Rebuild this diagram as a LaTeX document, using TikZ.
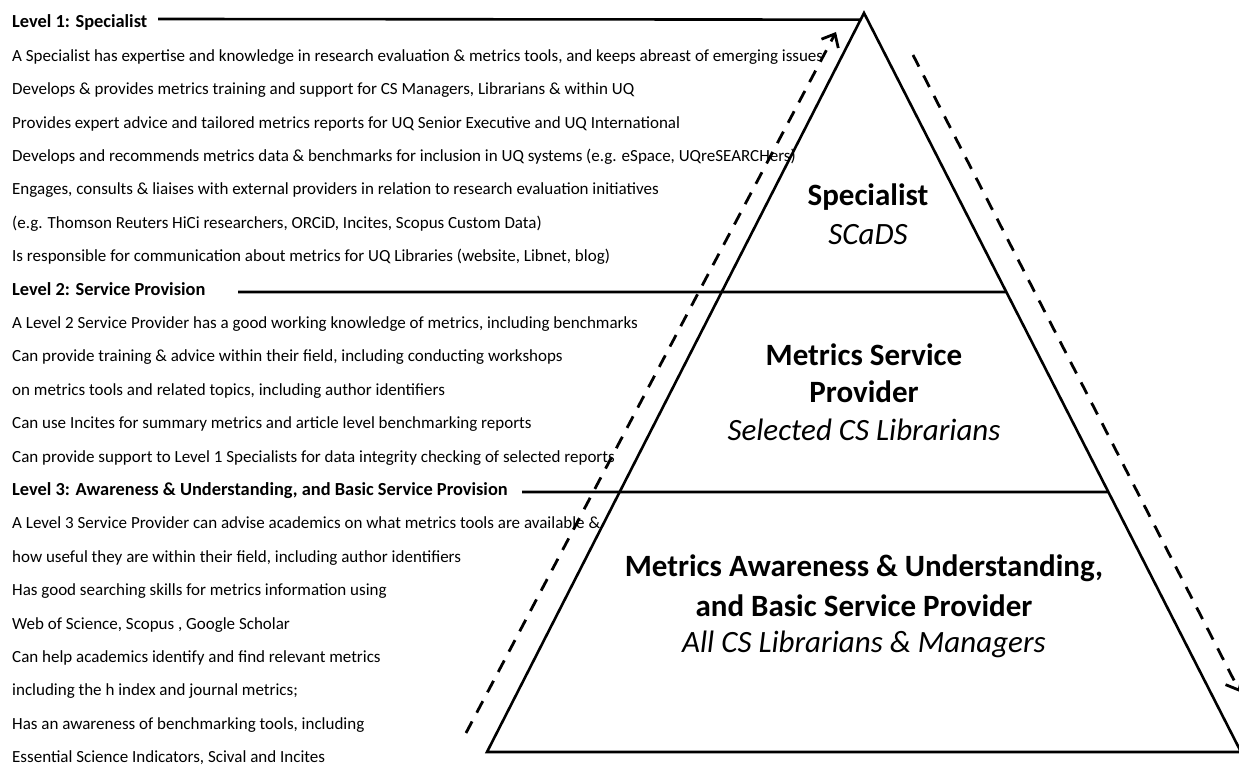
\documentclass[tikz,border=0pt]{standalone}
\usepackage{fontspec}
\setmainfont{Carlito}
\usetikzlibrary{calc,arrows.meta}
\tikzset{
  item/.style={anchor=base west,inner sep=0pt,font=\fontsize{17}{20}\selectfont},
  head/.style={item,font=\fontsize{18.4}{20}\selectfont\bfseries},
  pbold/.style={inner sep=0pt,font=\fontsize{31}{34}\selectfont\bfseries},
  pital/.style={inner sep=0pt,font=\fontsize{31}{34}\selectfont\itshape},
  edge/.style={line width=2.6pt,line join=miter},
  flow/.style={line width=2.8pt,dash pattern=on 13pt off 10pt,-{Straight Barb[length=11pt,width=19pt,line width=2.8pt]}}
}
\begin{document}
\begin{tikzpicture}[x=1pt,y=1pt]
\useasboundingbox (0,0) rectangle (1239,765);
% left text
\foreach \i/\s/\t in {
 1/head/{Level 1: Specialist},
 2/item/{A Specialist has expertise and knowledge in research evaluation \& metrics tools, and keeps abreast of emerging issues},
 3/item/{Develops \& provides metrics training and support for CS Managers, Librarians \& within UQ},
 4/item/{Provides expert advice and tailored metrics reports for UQ Senior Executive and UQ International},
 5/item/{Develops and recommends metrics data \& benchmarks for inclusion in UQ systems (e.g. eSpace, UQreSEARCHers)},
 6/item/{Engages, consults \& liaises with external providers in relation to research evaluation initiatives},
 7/item/{(e.g. Thomson Reuters HiCi researchers, ORCiD, Incites, Scopus Custom Data)},
 8/item/{Is responsible for communication about metrics for UQ Libraries (website, Libnet, blog)},
 9/head/{Level 2: Service Provision},
 10/item/{A Level 2 Service Provider has a good working knowledge of metrics, including benchmarks},
 11/item/{Can provide training \& advice within their field, including conducting workshops},
 12/item/{on metrics tools and related topics, including author identifiers},
 13/item/{Can use Incites for summary metrics and article level benchmarking reports},
 14/item/{Can provide support to Level 1 Specialists for data integrity checking of selected reports},
 15/head/{Level 3: Awareness \& Understanding, and Basic Service Provision},
 16/item/{A Level 3 Service Provider can advise academics on what metrics tools are available \&},
 17/item/{how useful they are within their field, including author identifiers},
 18/item/{Has good searching skills for metrics information using},
 19/item/{Web of Science, Scopus , Google Scholar},
 20/item/{Can help academics identify and find relevant metrics},
 21/item/{including the h index and journal metrics;},
 22/item/{Has an awareness of benchmarking tools, including},
 23/item/{Essential Science Indicators, Scival and Incites}}
 {\node[\s] (t\i) at (12,{765-(28+33.4*(\i-1))}) {\t};}
% pyramid
\coordinate (A) at (864,752);
\coordinate (BL) at (487,13);
\coordinate (BR) at (1241,13);
\draw[edge] (A) -- (BL) -- (BR) -- cycle;
\coordinate (e1) at ($(A)!0.009!(BL)$);
\coordinate (e2) at ($(A)!0.3775!(BR)$);
\coordinate (e3) at ($(A)!0.6482!(BR)$);
\draw[edge] (158,746) coordinate (s1) -- (e1);
\draw[edge] (238,473) coordinate (s2) -- (e2);
\draw[edge] (522,273) coordinate (s3) -- (e3);
% flow arrows
\coordinate (u0) at (466,32);
\coordinate (u1) at (836,733);
\coordinate (d0) at (913,710);
\coordinate (d1) at (1240,73);
\draw[flow] (u0) -- (u1);
\draw[flow] (d0) -- (d1);
% pyramid labels
\node[pbold] (p1a) at (868,{765-197}) {Specialist};
\node[pital] (p1b) at (868,{765-235}) {SCaDS};
\node[pbold] (p2a) at (864,{765-355}) {Metrics Service};
\node[pbold] (p2b) at (864,{765-392}) {Provider};
\node[pital] (p2c) at (864,{765-430}) {Selected CS Librarians};
\node[pbold] (p3a) at (864,{765-568}) {Metrics Awareness \& Understanding,};
\node[pbold] (p3b) at (864,{765-606}) {and Basic Service Provider};
\node[pital] (p3c) at (864,{765-644}) {All CS Librarians \& Managers};
\end{tikzpicture}
\end{document}
